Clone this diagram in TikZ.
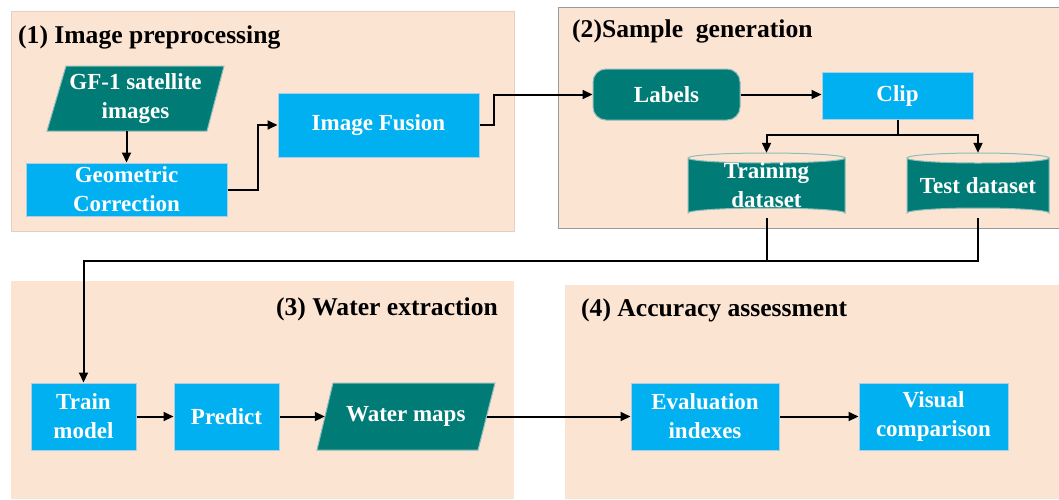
\documentclass[tikz,border=0pt]{standalone}
\usepackage{fontspec}
\setmainfont{Liberation Serif}
\usetikzlibrary{arrows.meta,calc}
\definecolor{peach}{HTML}{FCE4D3}
\definecolor{skyb}{HTML}{00B0F0}
\definecolor{skyedge}{HTML}{A8CFE6}
\definecolor{tealc}{HTML}{007B76}
\definecolor{tealedge}{HTML}{8DBDBA}
\definecolor{panelgray}{HTML}{9A9A9A}
\tikzset{
  panel/.style={fill=peach},
  ttl/.style={font=\fontsize{25.6}{30}\selectfont\bfseries, text=black, inner sep=0},
  bluebox/.style={rectangle, fill=skyb, draw=skyedge, line width=1pt, text=white, inner sep=0, align=center, font=\fontsize{23}{29}\selectfont\bfseries},
  plaintext/.style={rectangle, inner sep=0, text=white, align=center, font=\fontsize{23}{29}\selectfont\bfseries},
  tealround/.style={rectangle, rounded corners=13pt, fill=tealc, draw=tealedge, line width=1pt, text=white, inner sep=0, align=center, font=\fontsize{23}{29}\selectfont\bfseries},
  tealshape/.style={fill=tealc, draw=tealedge, line width=1pt},
  arr/.style={line width=2pt, -{Triangle[length=10pt,width=9pt]}},
  ln/.style={line width=2pt},
}
\begin{document}
\begin{tikzpicture}[x=1pt,y=-1pt]
\useasboundingbox (0,0) rectangle (1059,499);
% panels
\fill[panel, draw=peach!80!gray, line width=0.4pt] (11,11) rectangle (514,231);
\fill[panel] (558,7) rectangle (1059,228);
\draw[panelgray, line width=0.8pt] (1059,7) -- (558,7) -- (558,228) -- (1059,228);
\fill[panel] (11,281) rectangle (514,499);
\fill[panel] (565,285) rectangle (1059,499);
% titles
\node[ttl, anchor=base west] (t1) at (18,43) {(1) Image preprocessing};
\node[ttl, anchor=base west] (t2) at (572,37) {(2)Sample\ \ generation};
\node[ttl, anchor=base east] (t3) at (498,315) {(3) Water extraction};
\node[ttl, anchor=base west] (t4) at (581,316) {(4) Accuracy assessment};
% panel 1
\path[tealshape] (66,66) -- (224,66) -- (207,131) -- (47,131) -- cycle;
\node[plaintext, minimum width=159, minimum height=65] (gf) at (135.5,98.5) {GF-1 satellite\\images};
\node[bluebox, minimum width=201, minimum height=53] (geo) at (126.5,189.5) {Geometric\\Correction};
\node[bluebox, minimum width=201, minimum height=64] (fus) at (378.5,125) {Image Fusion};
% panel 2
\node[tealround, minimum width=147, minimum height=51] (lab) at (666.5,94.5) {Labels};
\node[bluebox, minimum width=151, minimum height=47] (clip) at (897.5,95.5) {Clip};
\path[tealshape] (688,158) -- (688,213) arc[start angle=180, end angle=360, x radius=78.5, y radius=5] -- (845,158) arc[start angle=0, end angle=180, x radius=78.5, y radius=5] -- cycle;
\draw[tealedge, line width=1pt] (688,158) arc[start angle=180, end angle=360, x radius=78.5, y radius=5];
\path[tealshape] (907,158) -- (907,213) arc[start angle=180, end angle=360, x radius=71, y radius=5] -- (1049,158) arc[start angle=0, end angle=180, x radius=71, y radius=5] -- cycle;
\draw[tealedge, line width=1pt] (907,158) arc[start angle=180, end angle=360, x radius=71, y radius=5];
\node[plaintext, minimum width=157, minimum height=65] (trn) at (766.5,185.5) {Training\\dataset};
\node[plaintext, minimum width=142, minimum height=65] (tst) at (978,185.5) {Test dataset};
% panel 3
\node[bluebox, minimum width=105, minimum height=67] (tm) at (83.5,416.5) {Train\\model};
\node[bluebox, minimum width=105, minimum height=67] (pred) at (226.5,416.5) {Predict};
\path[tealshape] (333,383) -- (495,383) -- (478,450) -- (317,450) -- cycle;
\node[plaintext, minimum width=161.5, minimum height=67] (wm) at (405.75,416.5) {Water maps};
% panel 4
\node[bluebox, minimum width=148, minimum height=67] (ev) at (705,416.5) {Evaluation\\indexes};
\node[bluebox, minimum width=149, minimum height=67] (vis) at (933.5,416.5) {Visual\\comparison};
% connectors
\coordinate (bus) at (0,261);
\draw[arr] (geo.north |- gf.south) -- (geo.north);
\draw[arr] (geo.east) -- ++(30,0) |- (fus.west);
\draw[arr] (fus.east) -- ++(14,0) |- (lab.west);
\draw[arr] (lab.east) -- (clip.west |- lab.east);
\draw[arr] (clip.south) -- ++(0,15) -| (trn.north);
\draw[arr] (clip.south) -- ++(0,15) -| (tst.north);
\draw[ln] (trn.south) -- (trn.south |- bus);
\draw[arr] (tst.south) -- (tst.south |- bus) -| (tm.north);
\draw[arr] (tm) -- (pred);
\draw[arr] (pred) -- (wm);
\draw[arr] (wm) -- (ev);
\draw[arr] (ev) -- (vis);
\end{tikzpicture}
\end{document}
